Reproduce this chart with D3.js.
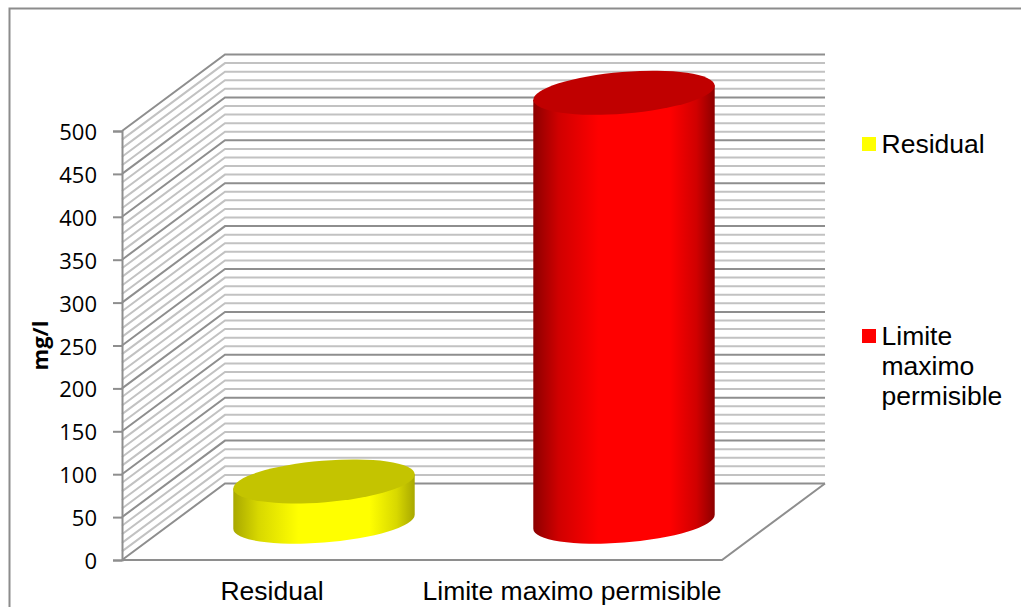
<!DOCTYPE html>
<html>
<head>
<meta charset="utf-8">
<script src="https://cdnjs.cloudflare.com/ajax/libs/d3/7.8.5/d3.min.js"></script>
<style>
html,body{margin:0;padding:0;background:#fff;overflow:hidden}
svg{display:block}
</style>
</head>
<body>
<div id="chart"></div>
<script>
const categories = ["Residual", "Limite maximo permisible"];
const values = [47, 500];
const bodyColors = ["#ffff00", "#ff0000"];
const shadeColors = ["#d8d800", "#d00000"];
const edgeColors = ["#a8a800", "#8c0000"];
const topColors = ["#c4c400", "#c00000"];
const legendLines = [["Residual"], ["Limite", "maximo", "permisible"]];
const yTicks = d3.range(0, 501, 50);
const gridValues = d3.range(0, 501, 10);

const W = 1021, H = 607;
const svg = d3.select("#chart").append("svg").attr("width", W).attr("height", H);

// Oblique projection: front plane, with the back wall shifted up and to the right
const frontX = [122, 722];
const depth = {dx: 103, dy: -76.5};
const y = d3.scaleLinear().domain([0, 500]).range([560, 131]);
const xFront = d3.scaleBand().domain(categories).range(frontX);
const xMid = d3.scaleBand().domain(categories)
  .range(frontX.map(v => v + depth.dx / 2 + 0.5));

const gridColor = "#c2c2c2", majorColor = "#8e8e8e";

// Frame of the chart area
svg.append("path")
  .attr("d", `M9.5,${H}V8.5H${W}`)
  .attr("fill", "none").attr("stroke", "#8c8c8c").attr("stroke-width", 2);

// Wall gridlines
const wall = svg.append("g").attr("fill", "none");
wall.selectAll("path")
  .data(gridValues)
  .join("path")
  .attr("d", v => `M${frontX[0]},${y(v)}L${frontX[0] + depth.dx},${y(v) + depth.dy}H${frontX[1] + depth.dx}`)
  .attr("stroke", v => v % 50 === 0 ? majorColor : gridColor)
  .attr("stroke-width", 2);

// Floor outline
svg.append("path")
  .attr("d", `M${frontX[0]},${y(0)}H${frontX[1]}L${frontX[1] + depth.dx},${y(0) + depth.dy}`)
  .attr("fill", "none").attr("stroke", majorColor).attr("stroke-width", 2);

// Value axis
const axis = svg.append("g")
  .attr("transform", `translate(${frontX[0]},0)`)
  .call(d3.axisLeft(y).tickValues(yTicks).tickSize(9).tickPadding(16));
axis.selectAll("path,line").attr("stroke", majorColor).attr("stroke-width", 2);
axis.selectAll("text")
  .attr("fill", "#000")
  .attr("transform", "translate(0,1.5)")
  .style("font-family", "'Open Sans'")
  .style("font-size", "22px");

svg.append("text")
  .attr("transform", `translate(48,${(y(0) + y(500)) / 2}) rotate(-90)`)
  .attr("text-anchor", "middle")
  .style("font-family", "'Open Sans'")
  .style("font-weight", "700")
  .style("font-size", "22px")
  .text("mg/l");

// Side shading for each cylinder
const defs = svg.append("defs");
categories.forEach((c, i) => {
  const g = defs.append("linearGradient").attr("id", "body" + i);
  [[0, edgeColors[i]], [0.14, shadeColors[i]], [0.36, bodyColors[i]],
   [0.75, bodyColors[i]], [0.9, shadeColors[i]], [1, edgeColors[i]]]
    .forEach(([o, col]) => g.append("stop").attr("offset", o).attr("stop-color", col));
});

// Cylinder cross-section: a tilted ellipse
const rx = 91, ry = 20.8, tilt = -4.7;
const tiltRad = tilt * Math.PI / 180;
const halfW = Math.hypot(rx * Math.cos(tiltRad), ry * Math.sin(tiltRad));
const skew = (rx * rx - ry * ry) * Math.sin(tiltRad) * Math.cos(tiltRad) / halfW;

const bars = svg.append("g").selectAll("g")
  .data(categories.map((c, i) => ({c, i, v: values[i]})))
  .join("g");

const cx = d => xMid(d.c) + xMid.bandwidth() / 2;
const cy0 = () => y(0) + depth.dy / 2;
const cyV = d => y(d.v) + depth.dy / 2;

bars.append("path")
  .attr("fill", d => `url(#body${d.i})`)
  .attr("d", d => {
    const x = cx(d), b = cy0(), t = cyV(d);
    return `M${x - halfW},${t - skew}L${x - halfW},${b - skew}` +
      `A${rx},${ry} ${tilt} 0 0 ${x + halfW},${b + skew}` +
      `L${x + halfW},${t + skew}Z`;
  });

bars.append("ellipse")
  .attr("rx", rx).attr("ry", ry)
  .attr("fill", d => topColors[d.i])
  .attr("transform", d => `translate(${cx(d)},${cyV(d)}) rotate(${tilt})`);

// Category labels
svg.append("g").selectAll("text")
  .data(categories)
  .join("text")
  .attr("x", c => xFront(c) + xFront.bandwidth() / 2)
  .attr("y", 600)
  .attr("text-anchor", "middle")
  .style("font-family", "'Liberation Sans'")
  .style("font-size", "26.5px")
  .text(c => c);

// Legend
const legendTop = [137, 329];
const legend = svg.append("g").selectAll("g")
  .data(categories.map((c, i) => ({c, i})))
  .join("g")
  .attr("transform", d => `translate(862,${legendTop[d.i]})`);
legend.append("rect")
  .attr("width", 14).attr("height", 14)
  .attr("fill", d => bodyColors[d.i]);
legend.each(function (d) {
  d3.select(this).selectAll("text")
    .data(legendLines[d.i])
    .join("text")
    .attr("x", 19.5)
    .attr("y", (t, j) => 15.5 + j * 30)
    .style("font-family", "'Liberation Sans'")
    .style("font-size", "26.5px")
    .text(t => t);
});
</script>
</body>
</html>
